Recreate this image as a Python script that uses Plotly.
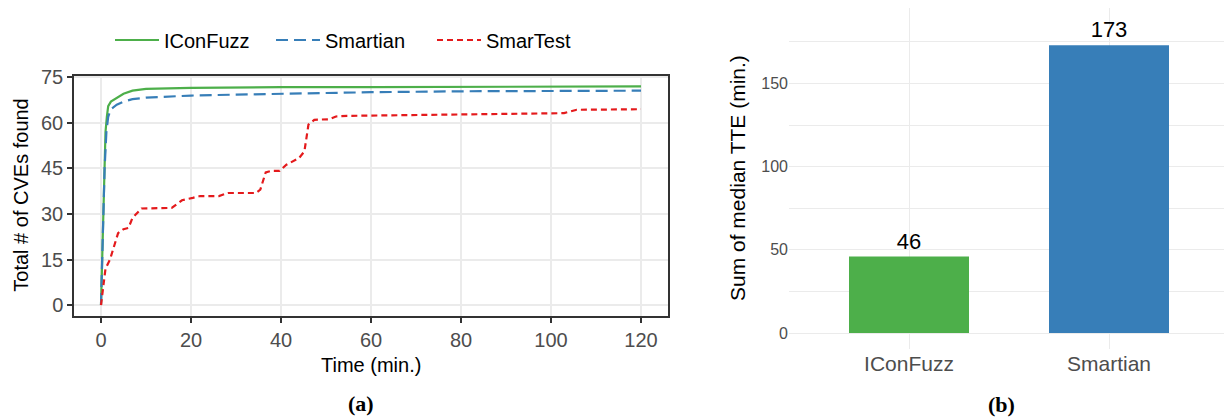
import plotly.graph_objects as go

# ---------------- data ----------------
time_iconfuzz = [0, 0.7, 1.0, 1.3, 1.6, 2.2, 3.5, 5, 7, 10, 20, 40, 60, 80, 100, 120]
cves_iconfuzz = [0, 45, 57, 62, 65.5, 67, 68.3, 69.6, 70.6, 71.2, 71.5, 71.8, 71.8, 71.9, 71.9, 72]

time_smartian = [0, 0.8, 1.2, 1.6, 2.2, 3.5, 5, 7, 10, 20, 30, 40, 60, 80, 100, 120]
cves_smartian = [0, 45, 57, 62, 64.5, 66, 67, 67.8, 68.3, 69, 69.3, 69.6, 70.1, 70.4, 70.5, 70.6]

time_smartest = [0, 1.0, 2.0, 3.8, 5.0, 6.1, 7.0, 9.0, 15.7, 18.0, 20.4, 22.0, 26.2, 28.2,
                 34.4, 35.4, 36.6, 37.8, 39.7, 41.2, 44.0, 45.2, 46.1, 47.4, 50.7, 52.2,
                 54.7, 79.7, 81.7, 102.9, 105.7, 120]
cves_smartest = [0, 12, 15, 23.7, 25, 25.4, 28.7, 31.8, 32, 34.5, 35.3, 35.9, 35.9, 36.9,
                 36.9, 38, 43.7, 44.2, 44.2, 46.2, 48.4, 50.6, 59.4, 61, 61.2, 62.1,
                 62.3, 62.6, 62.8, 63.2, 64.3, 64.5]

bar_tools = ["IConFuzz", "Smartian"]
bar_tte = [46, 173]

x_ticks = [0, 20, 40, 60, 80, 100, 120]
y_ticks = [0, 15, 30, 45, 60, 75]
y2_ticks = [0, 50, 100, 150]

GREEN = "#4DAF4A"
BLUE = "#377EB8"
RED = "#E41A1C"
FONT = "Liberation Sans"
TICKC = "#4D4D4D"
GRID = "#EBEBEB"
OFF = 8            # default page body margin
W, H = 1232 - OFF, 420 - OFF

fig = go.Figure()
fig.add_trace(go.Scatter(x=time_iconfuzz, y=cves_iconfuzz, mode="lines", name="IConFuzz",
                         line=dict(color=GREEN, width=2.2), xaxis="x", yaxis="y"))
fig.add_trace(go.Scatter(x=time_smartian, y=cves_smartian, mode="lines", name="Smartian",
                         line=dict(color=BLUE, width=2.2, dash="12px,6px"), xaxis="x", yaxis="y"))
fig.add_trace(go.Scatter(x=time_smartest, y=cves_smartest, mode="lines", name="SmarTest",
                         line=dict(color=RED, width=2.2, dash="6px,4px"), xaxis="x", yaxis="y"))
fig.add_trace(go.Bar(x=bar_tools, y=bar_tte, marker=dict(color=[GREEN, BLUE], line=dict(width=0)),
                     width=0.6, text=[str(v) for v in bar_tte], textposition="outside",
                     textfont=dict(family=FONT, size=22, color="black"), cliponaxis=False,
                     showlegend=False, xaxis="x2", yaxis="y2"))

def px_x(p):
    return (p - OFF) / W

def px_y(p):
    return 1 - (p - OFF) / H

fig.update_layout(
    width=W, height=H,
    margin=dict(l=0, r=0, t=0, b=0, autoexpand=False),
    paper_bgcolor="white", plot_bgcolor="white",
    font=dict(family=FONT, color="black"),
    showlegend=True,
    legend=dict(orientation="h", x=px_x(110), y=px_y(40), xanchor="left", yanchor="middle",
                font=dict(family=FONT, size=20, color="black"), itemwidth=44,
                entrywidth=102, entrywidthmode="pixels", bgcolor="rgba(0,0,0,0)"),
    xaxis=dict(domain=[px_x(74), px_x(668)], anchor="y", range=[-6, 126], automargin=False,
               tickvals=x_ticks, showgrid=True, gridcolor=GRID, gridwidth=1.5,
               zeroline=False, showline=True, linecolor="#333333", linewidth=1.5, mirror=True,
               ticks="outside", ticklen=5, tickwidth=1.5, tickcolor="#333333",
               tickfont=dict(family=FONT, size=20, color=TICKC)),
    yaxis=dict(domain=[px_y(316), px_y(75.5)], anchor="x", range=[-3.6, 75.6], automargin=False,
               tickvals=y_ticks, showgrid=True, gridcolor=GRID, gridwidth=1.5,
               zeroline=False, showline=True, linecolor="#333333", linewidth=1.5, mirror=True,
               ticks="outside", ticklen=5, tickwidth=1.5, tickcolor="#333333",
               tickfont=dict(family=FONT, size=20, color=TICKC)),
    xaxis2=dict(domain=[px_x(789), px_x(1229)], anchor="y2", range=[-0.6, 1.6], automargin=False,
                showgrid=True, gridcolor=GRID, gridwidth=1.4, zeroline=False, showline=False,
                ticks="", tickfont=dict(family=FONT, size=21, color=TICKC)),
    yaxis2=dict(domain=[px_y(349), px_y(8)], anchor="x2", range=[-9.6, 195.4], automargin=False,
                tickvals=y2_ticks, showgrid=True, gridcolor=GRID, gridwidth=1.4,
                zeroline=False, showline=False, ticks="",
                minor=dict(dtick=25, tick0=0, showgrid=True, gridcolor=GRID, gridwidth=0.8),
                tickfont=dict(family=FONT, size=16, color=TICKC)),
    annotations=[
        dict(text="Total # of CVEs found", x=px_x(21), y=px_y(195.7), xref="paper", yref="paper",
             textangle=-90, showarrow=False, xanchor="center", yanchor="middle",
             font=dict(family=FONT, size=20, color="black")),
        dict(text="Time (min.)", x=px_x(371), y=px_y(365), xref="paper", yref="paper",
             showarrow=False, xanchor="center", yanchor="middle",
             font=dict(family=FONT, size=20, color="black")),
        dict(text="Sum of median TTE (min.)", x=px_x(737.5), y=px_y(178.5), xref="paper", yref="paper",
             textangle=-90, showarrow=False, xanchor="center", yanchor="middle",
             font=dict(family=FONT, size=21, color="black")),
        dict(text="<b>(a)</b>", x=px_x(361.5), y=px_y(403), xref="paper", yref="paper",
             showarrow=False, xanchor="center", yanchor="middle",
             font=dict(family="Liberation Serif", size=22, color="black")),
        dict(text="<b>(b)</b>", x=px_x(1001), y=px_y(404), xref="paper", yref="paper",
             showarrow=False, xanchor="center", yanchor="middle",
             font=dict(family="Liberation Serif", size=22, color="black")),
    ],
)

fig.write_html("out.html")
